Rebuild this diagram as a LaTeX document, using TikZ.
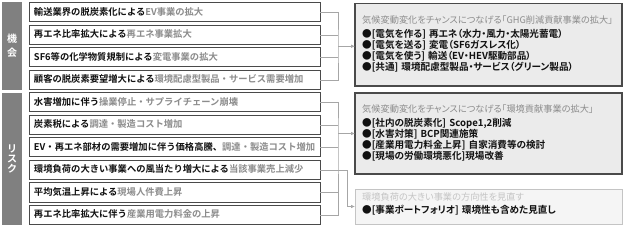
\documentclass[tikz,border=0pt]{standalone}
\usepackage{fontspec}
\usepackage{xcolor}
\usepackage{tikz}
\usetikzlibrary{arrows.meta,positioning,calc}
\setmainfont{Noto Sans CJK JP}[BoldFont={Noto Sans CJK JP Bold}]
\newfontfamily\narrowjp{Noto Sans CJK JP}[BoldFont={Noto Sans CJK JP Bold},RawFeature=+palt]
\definecolor{Ink}{HTML}{111111}
\definecolor{Edge}{HTML}{4A4A4A}
\definecolor{Bar}{HTML}{808080}
\definecolor{Soft}{HTML}{8C8C8C}
\definecolor{Wire}{HTML}{A6A6A6}
\definecolor{Panel}{HTML}{EBEBEB}
\definecolor{PanelTwo}{HTML}{F5F5F5}
\definecolor{Faint}{HTML}{C4C4C4}
\newcommand{\Fade}[1]{\textcolor{Soft}{#1}}
\tikzset{
  row/.style={
    draw=Edge, line width=1pt, fill=white, outer sep=0pt,
    minimum width=291pt, minimum height=19pt, text width=281pt,
    text height=7pt, text depth=1.5pt,
    inner xsep=5pt, inner ysep=0pt, align=left, text=Ink,
    font=\fontsize{9.3pt}{10pt}\selectfont\bfseries
  },
  side/.style={
    fill=Bar, text=white, minimum width=20pt, inner sep=0pt,
    align=center, anchor=north west,
    font=\fontsize{10pt}{10pt}\selectfont\bfseries
  },
  panel/.style={
    draw=Edge, line width=1.1pt, fill=Panel, outer sep=0pt,
    minimum width=267pt, anchor=north west
  },
  panelSoft/.style={panel,draw=Faint,line width=.9pt,fill=PanelTwo},
  head/.style={
    anchor=base west, inner sep=0pt, text=Soft,
    font=\narrowjp\fontsize{9.2pt}{9pt}\selectfont
  },
  items/.style={
    anchor=base west, inner sep=0pt, text=Ink, text width=258pt,
    align=left, font=\narrowjp\fontsize{9.6pt}{9.2pt}\selectfont\bfseries
  },
  link/.style={draw=Wire,line width=.7pt},
  arr/.style={link,-{Latex[length=4pt,width=3.5pt]}}
}

\begin{document}
\begin{tikzpicture}[node distance=3.5pt]
  \useasboundingbox (0,0) rectangle (624pt,-227pt);
  % left column
  \node[side,minimum height=88pt] (kikai) at (2pt,-2pt) {機\\[4pt]会};
  \node[side,minimum height=132pt] (risk) at (2pt,-93pt) {リ\\ス\\ク};
  \node[row,anchor=north west] (r1) at (29pt,-3pt) {輸送業界の脱炭素化による\Fade{EV事業の拡大}};
  \node[row,below=of r1] (r2) {再エネ比率拡大による\Fade{再エネ事業拡大}};
  \node[row,below=of r2] (r3) {SF6等の化学物質規制による\Fade{変電事業の拡大}};
  \node[row,below=of r3] (r4) {顧客の脱炭素要望増大による\Fade{環境配慮型製品・サービス需要増加}};
  \node[row,below=of r4] (r5) {水害増加に伴う\Fade{操業停止・サプライチェーン崩壊}};
  \node[row,below=of r5] (r6) {炭素税による\Fade{調達・製造コスト増加}};
  \node[row,below=of r6] (r7) {EV・再エネ部材の需要増加に伴う価格高騰、\Fade{調達・製造コスト増加}};
  \node[row,below=of r7] (r8) {環境負荷の大きい事業への風当たり増大による\Fade{当該事業売上減少}};
  \node[row,below=of r8] (r9) {平均気温上昇による\Fade{現場人件費上昇}};
  \node[row,below=of r9] (r10) {再エネ比率拡大に伴う\Fade{産業用電力料金の上昇}};
  % right column
  \node[panel,minimum height=82.5pt] (g1) at (355pt,-3.5pt) {};
  \node[panel,minimum height=81pt] (g2) at (355pt,-93pt) {};
  \node[panelSoft,minimum height=35pt] (g3) at (355pt,-189pt) {};
  \node[head] (t1) at ($(g1.north west)+(7pt,-20.5pt)$) {気候変動変化をチャンスにつなげる「GHG削減貢献事業の拡大」};
  \node[items] (b1) at ($(g1.north west)+(7pt,-34pt)$) {●[電気を作る] 再エネ（水力・風力・太陽光蓄電）\\●[電気を送る] 変電（SF6ガスレス化）\\●[電気を使う] 輸送（EV・HEV駆動部品）\\●[共通] 環境配慮型製品・サービス（グリーン製品）};
  \node[head] (t2) at ($(g2.north west)+(7pt,-20pt)$) {気候変動変化をチャンスにつなげる「環境貢献事業の拡大」};
  \node[items] (b2) at ($(g2.north west)+(7pt,-33.5pt)$) {●[社内の脱炭素化] Scope1,2削減\\●[水害対策] BCP関連施策\\●[産業用電力料金上昇] 自家消費等の検討\\●[現場の労働環境悪化]現場改善};
  \node[head,text=Faint] (t3) at ($(g3.north west)+(7pt,-11.5pt)$) {環境負荷の大きい事業の方向性を見直す};
  \node[items] (b3) at ($(g3.north west)+(7pt,-24.5pt)$) {●[事業ポートフォリオ] 環境性も含めた見直し};
  % connectors
  \coordinate (jA) at ($(r1.east)!.5!(r4.east)+(18pt,0)$);
  \coordinate (jB) at ($(r5.east |- g2.west)+(18pt,0)$);
  \draw[link] (r1.east) -| (jA) |- (r4.east);
  \draw[link] (r2.east) -- (r2.east -| jA);
  \draw[link] (r3.east) -- (r3.east -| jA);
  \draw[arr] (jA) -- (jA -| g1.west);
  \draw[link] (r5.east) -| (jB) |- (r10.east);
  \draw[link] (r6.east) -- (r6.east -| jB);
  \draw[link] (r7.east) -- (r7.east -| jB);
  \draw[link] (r9.east) -- (r9.east -| jB);
  \draw[arr] (jB) -- (g2.west);
  \draw[arr] (r8.east) -- ++(27pt,0) |- (g3.west);
\end{tikzpicture}
\end{document}
